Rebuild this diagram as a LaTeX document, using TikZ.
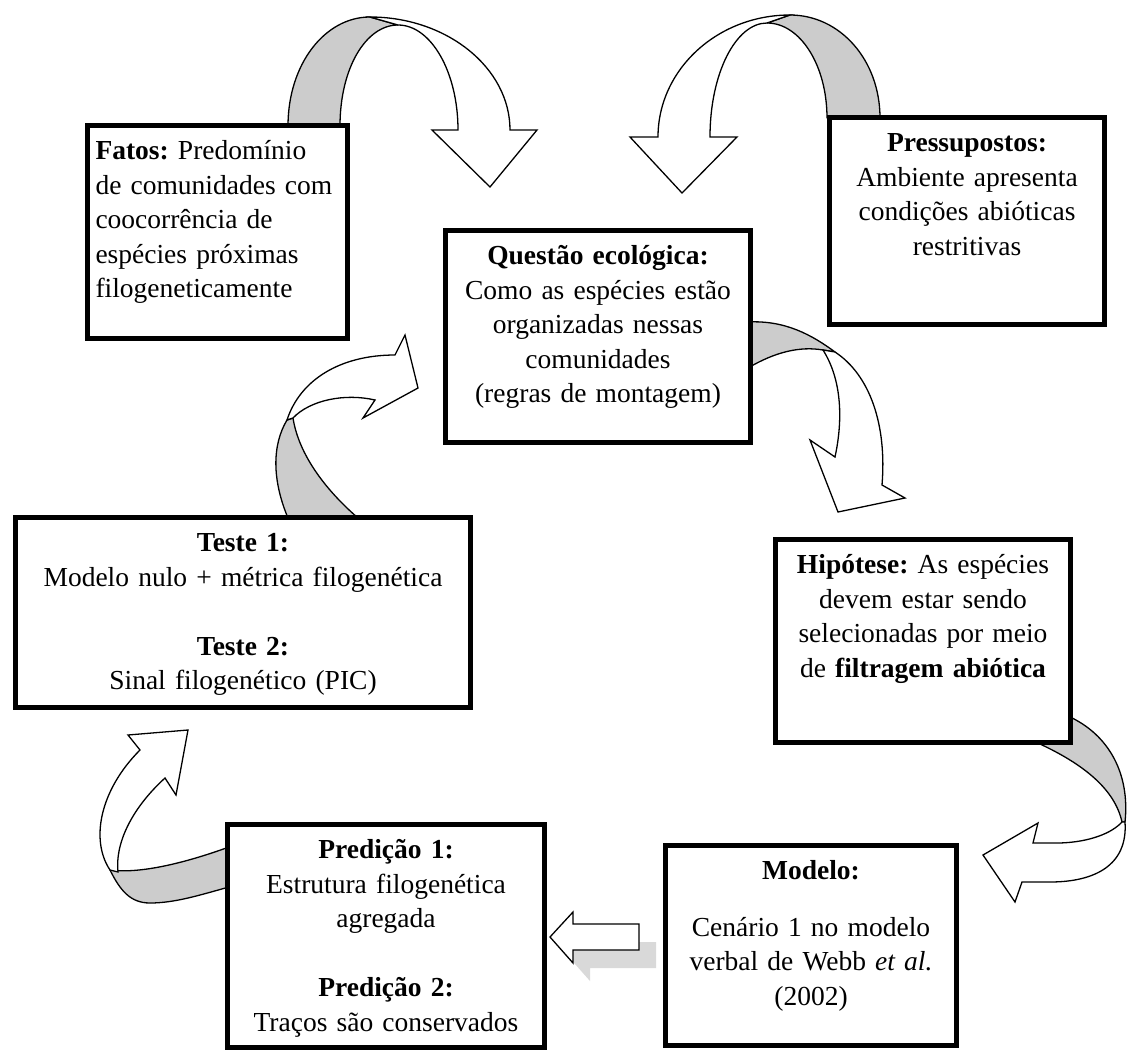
\documentclass[tikz,border=0pt]{standalone}
\usepackage{fontspec}
\setmainfont{Liberation Serif}
\frenchspacing
\tikzset{
  stage/.style={rectangle,draw,fill=white,line width=5pt,anchor=north west,
                align=center,inner xsep=8pt,inner ysep=10pt,text height=24pt,
                font=\fontsize{27.5}{34.5}\selectfont},
  backband/.style={draw,fill=black!20,line width=1.3pt,line join=round},
  frontband/.style={draw,fill=white,line width=1.3pt},
  shade/.style={fill=black!15},
}

\begin{document}
\begin{tikzpicture}[x=1pt,y=-1pt]
  \useasboundingbox (0,0) rectangle (1128,1061);

  % curved arrows (behind the boxes)
  % fatos -> questao
  \draw[backband] (288,126) .. controls (288,64) and (325,17) .. (370,17)
    -- (398,25) .. controls (366,25) and (340,68) .. (340,126) -- cycle;
  \draw[frontband] (370,17) .. controls (447,17) and (510,68) .. (510,130)
    -- (537,130) -- (490,187) -- (432,130) -- (458,130)
    .. controls (458,72) and (431,25) .. (398,25) -- cycle;
  % pressupostos -> questao
  \draw[backband] (880,118) .. controls (880,60) and (840,15) .. (790,15)
    -- (767,23) .. controls (800,23) and (827,65) .. (827,118) -- cycle;
  \draw[frontband] (790,15) .. controls (717,15) and (658,70) .. (658,137)
    -- (630,137) -- (682,193) -- (737,137) -- (710,137)
    .. controls (710,73) and (736,23) .. (767,23) -- cycle;
  % questao -> hipotese
  \draw[backband] (748,322) .. controls (785,320) and (812,335) .. (835,352)
    -- (823,350) .. controls (800,346) and (775,352) .. (748,368) -- cycle;
  \draw[frontband] (835,352) .. controls (870,375) and (887,425) .. (882,485)
    -- (905,498) -- (838,512) -- (810,440) -- (835,457)
    .. controls (843,420) and (842,380) .. (823,350) -- cycle;
  % hipotese -> modelo
  \draw[backband] (1068,716) .. controls (1110,735) and (1130,775) .. (1125,822)
    -- (1122,822) .. controls (1115,790) and (1085,765) .. (1040,744) -- cycle;
  \draw[frontband] (1125,822) .. controls (1128,865) and (1095,882) .. (1050,882)
    -- (1022,882) -- (1015,902) -- (983,855) -- (1038,823) -- (1033,843)
    -- (1060,843) .. controls (1090,842) and (1112,833) .. (1122,822) -- cycle;
  % predicao -> teste
  \draw[backband] (229,847) .. controls (185,863) and (140,874) .. (110,870)
    .. controls (120,890) and (130,903) .. (150,903)
    .. controls (175,903) and (200,895) .. (229,887) -- cycle;
  \draw[frontband] (110,870) .. controls (90,840) and (100,790) .. (140,750)
    -- (128,735) -- (188,730) -- (176,795) -- (165,778)
    .. controls (130,810) and (115,845) .. (118,872) -- cycle;
  % teste -> questao
  \draw[backband] (288,518) .. controls (272,480) and (272,445) .. (287,420)
    -- (293,418) .. controls (298,450) and (320,485) .. (358,518) -- cycle;
  \draw[frontband] (287,420) .. controls (300,380) and (340,355) .. (395,355)
    -- (405,335) -- (418,388) -- (363,418) -- (375,400)
    .. controls (345,393) and (310,400) .. (293,418) -- cycle;

  % boxes
  \node[stage,align=left,text width=244pt,text depth=169pt] (fatos) at (85,123)
    {\textbf{Fatos:} Predomínio\\de comunidades com\\coocorrência de\\espécies próximas\\filogeneticamente};
  \node[stage,text width=289pt,text depth=168pt] (questao) at (443,228)
    {\textbf{Questão ecológica:}\\Como as espécies estão\\organizadas nessas\\comunidades\\(regras de montagem)};
  \node[stage,text width=259pt,text depth=163pt] (pressup) at (827,115)
    {\textbf{Pressupostos:}\\Ambiente apresenta\\condições abióticas\\restritivas};
  \node[stage,text width=439pt,text depth=146pt] (teste) at (13,515)
    {\textbf{Teste 1:}\\Modelo nulo + métrica filogenética\\[34.5pt]\textbf{Teste 2:}\\Sinal filogenético (PIC)};
  \node[stage,text width=279pt,text depth=159pt] (hipotese) at (773,537)
    {\textbf{Hipótese:} As espécies\\devem estar sendo\\selecionadas por meio\\de \textbf{filtragem abiótica}};
  \node[stage,text width=275pt,text depth=156pt] (modelo) at (663,843)
    {\textbf{Modelo:}\\[22pt]Cenário 1 no modelo\\verbal de Webb \textit{et al.}\\(2002)};
  \node[stage,text width=301pt,text depth=179pt] (predicao) at (225,822)
    {\textbf{Predição 1:}\\Estrutura filogenética\\agregada\\[34.5pt]\textbf{Predição 2:}\\Traços são conservados};

  % modelo -> predicao
  \fill[shade,shift={(17,18)}] (550,937) -- (573,912) -- (573,924) -- (639,924)
    -- (639,950) -- (573,950) -- (573,963) -- cycle;
  \draw[frontband] (550,937) -- (573,912) -- (573,924) -- (639,924)
    -- (639,950) -- (573,950) -- (573,963) -- cycle;
\end{tikzpicture}
\end{document}
